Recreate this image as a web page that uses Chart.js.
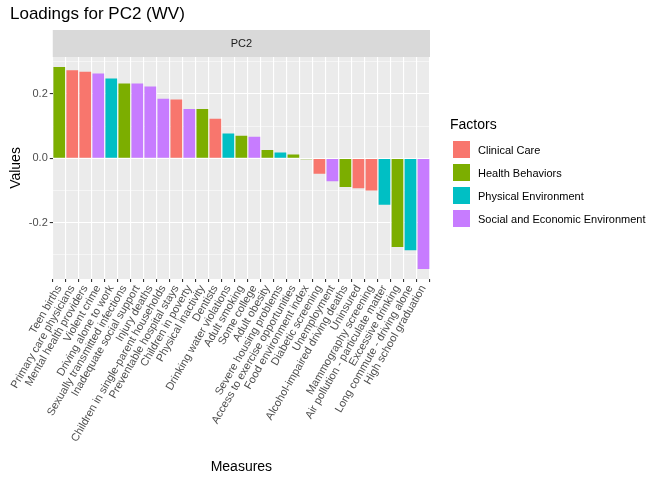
<!DOCTYPE html>
<html>
<head>
<meta charset="utf-8">
<script src="https://cdn.jsdelivr.net/npm/chart.js@4/dist/chart.umd.min.js"></script>
<style>
  body { margin: 0; background: #fff; font-family: "Liberation Sans", Arial, sans-serif; }
  #wrap { position: relative; width: 671px; height: 482px; }
  #title { position: absolute; left: 10px; top: 4px; font-size: 17px; color: #000; }
  #legend { position: absolute; left: 450px; top: 116px; font-size: 11px; color: #000; }
  #legend .t { font-size: 14px; margin-bottom: 6px; }
  #legend .row { display: flex; align-items: center; height: 23px; }
  #legend .sw { width: 17px; height: 17px; margin: 0 8px 0 3px; }
</style>
</head>
<body>
<div id="wrap">
  <canvas id="c" width="671" height="482"></canvas>
  <div id="title">Loadings for PC2 (WV)</div>
  <div id="legend"></div>
</div>
<script>
// -------------------- DATA --------------------
const measures = [
    "Teen births", "Primary care physicians", "Mental health providers", "Violent crime",
    "Driving alone to work", "Sexually transmitted infections", "Inadequate social support",
    "Injury deaths", "Children in single-parent households", "Preventable hospital stays",
    "Children in poverty", "Physical inactivity", "Dentists", "Drinking water violations",
    "Adult smoking", "Some college", "Adult obesity", "Severe housing problems",
    "Access to exercise opportunities", "Food environment index", "Diabetic screening",
    "Unemployment", "Alcohol-impaired driving deaths", "Uninsured", "Mammography screening",
    "Air pollution - particulate matter", "Excessive drinking", "Long commute - driving alone",
    "High school graduation"
];
const loadings = [
    0.284, 0.274, 0.269, 0.264, 0.248, 0.233, 0.233, 0.223, 0.185, 0.183,
    0.153, 0.153, 0.123, 0.077, 0.070, 0.067, 0.026, 0.018, 0.012, -0.003,
    -0.048, -0.071, -0.089, -0.093, -0.100, -0.144, -0.276, -0.286, -0.344
];
// C = Clinical Care, H = Health Behaviors, P = Physical Environment, S = Social and Economic
const measureFactor = [
    "H", "C", "C", "S", "P", "H", "S", "S", "S", "C",
    "S", "H", "C", "P", "H", "S", "H", "P", "H", "H",
    "C", "S", "H", "C", "C", "P", "H", "P", "S"
];
const factorKeys = ["C", "H", "P", "S"];
const factorNames = ["Clinical Care", "Health Behaviors", "Physical Environment", "Social and Economic Environment"];
const factorColors = ["#F8766D", "#7CAE00", "#00BFC4", "#C77CFF"];
const yTicks = [-0.2, 0.0, 0.2];

// -------------------- LEGEND --------------------
const legendEl = document.getElementById("legend");
legendEl.innerHTML = '<div class="t">Factors</div>' + factorNames.map((n, i) =>
    `<div class="row"><div class="sw" style="background:${factorColors[i]}"></div>${n}</div>`).join("");

// -------------------- PANEL PLUGIN --------------------
const panelPlugin = {
    id: "panel",
    beforeDraw(chart) {
        const { ctx, chartArea: a } = chart;
        ctx.save();
        ctx.fillStyle = "#EBEBEB";
        ctx.fillRect(a.left, a.top, a.right - a.left, a.bottom - a.top);
        ctx.fillStyle = "#D9D9D9";
        ctx.fillRect(a.left, a.top - 27, a.right - a.left, 27);
        ctx.fillStyle = "#1A1A1A";
        ctx.font = "11px 'Liberation Sans', Arial, sans-serif";
        ctx.textAlign = "center";
        ctx.textBaseline = "middle";
        ctx.fillText("PC2", (a.left + a.right) / 2, a.top - 13);
        ctx.restore();
    }
};

const datasets = factorKeys.map((k, fi) => ({
    label: factorNames[fi],
    data: loadings.map((v, i) => measureFactor[i] === k ? v : null),
    backgroundColor: factorColors[fi],
    categoryPercentage: 1.0,
    barPercentage: 0.9,
    grouped: false,
    skipNull: true
}));

const font = { family: "'Liberation Sans', Arial, sans-serif", size: 11 };

new Chart(document.getElementById("c"), {
    type: "bar",
    plugins: [panelPlugin],
    data: { labels: measures, datasets },
    options: {
        responsive: false,
        animation: false,
        layout: { padding: { top: 57, right: 241, left: 4, bottom: 0 } },
        plugins: { legend: { display: false }, tooltip: { enabled: false } },
        scales: {
            x: {
                grid: { color: "#FFFFFF", lineWidth: 1.1, drawTicks: true, tickColor: "#333", tickLength: 3 },
                border: { display: false },
                ticks: { color: "#4D4D4D", font, minRotation: 60, maxRotation: 60, autoSkip: false, padding: 1 },
                title: { display: true, text: "Measures", color: "#000", font: { family: font.family, size: 14 }, padding: { top: 14, bottom: 6 } }
            },
            y: {
                min: -0.375, max: 0.315,
                afterBuildTicks(axis) {
                    axis.ticks = [-0.3, -0.2, -0.1, 0, 0.1, 0.2, 0.3].map(v => ({ value: v }));
                },
                grid: {
                    color: "#FFFFFF",
                    lineWidth: ctx => yTicks.some(t => Math.abs(t - ctx.tick.value) < 1e-6) ? 1.1 : 0.5,
                    tickColor: ctx => yTicks.some(t => Math.abs(t - ctx.tick.value) < 1e-6) ? "#333" : "rgba(0,0,0,0)",
                    tickLength: 3
                },
                border: { display: false },
                ticks: {
                    color: "#4D4D4D", font, padding: 2,
                    callback: v => yTicks.some(t => Math.abs(t - v) < 1e-6) ? v.toFixed(1) : ""
                },
                title: { display: true, text: "Values", color: "#000", font: { family: font.family, size: 14 }, padding: { bottom: 2 } }
            }
        }
    }
});
</script>
</body>
</html>
